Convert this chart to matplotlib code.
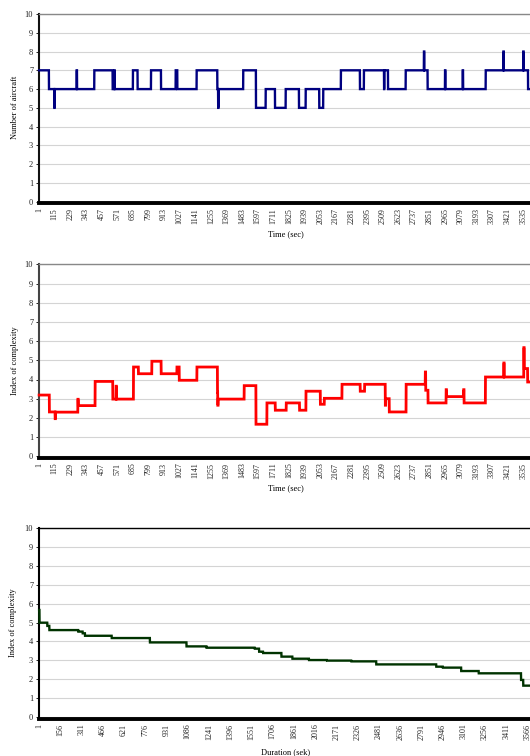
import numpy as np
import matplotlib
matplotlib.use('Agg')
import matplotlib.pyplot as plt

# step data: (start second, value) pairs
n_seconds = 3600

aircraft_start = [1, 73, 112, 115, 275, 278, 404, 538, 550, 553, 686, 720, 818, 891,
                  998, 1010, 1151, 1302, 1308, 1311, 1491, 1584, 1655, 1723, 1801,
                  1898, 1947, 2046, 2075, 2204, 2343, 2372, 2519, 2521, 2548, 2677,
                  2810, 2813, 2837, 2964, 2967, 3093, 3096, 3261, 3390, 3393, 3535,
                  3538, 3570]
aircraft_value = [7, 6, 5, 6, 7, 6, 7, 6, 7, 6, 7, 6, 7, 6,
                  7, 6, 7, 6, 5, 6, 7, 5, 6, 5, 6,
                  5, 6, 5, 6, 7, 6, 7, 6, 7, 6, 7,
                  8, 7, 6, 7, 6, 7, 6, 7, 8, 7, 8,
                  7, 6]

complexity_start = [1, 76, 118, 121, 284, 287, 410, 539, 563, 566, 690, 726, 824, 892,
                    1007, 1024, 1153, 1303, 1305, 1308, 1498, 1584, 1664, 1725, 1805,
                    1902, 1949, 2054, 2083, 2212, 2345, 2377, 2528, 2531, 2557, 2680,
                    2820, 2823, 2840, 2972, 2975, 3100, 3103, 3259, 3393, 3396, 3539,
                    3542, 3567]
complexity_value = [3.19, 2.31, 1.96, 2.3, 2.97, 2.64, 3.9, 2.98, 3.65, 2.98, 4.65, 4.3, 4.95, 4.3,
                    4.65, 3.96, 4.65, 3.35, 2.66, 2.98, 3.68, 1.67, 2.78, 2.4, 2.78,
                    2.4, 3.39, 2.71, 3.02, 3.75, 3.39, 3.75, 2.66, 3.0, 2.31, 3.75,
                    4.39, 3.44, 2.78, 3.47, 3.11, 3.47, 2.78, 4.13, 4.86, 4.13, 5.66,
                    4.57, 3.87]

sorted_start = [1, 4, 61, 76, 287, 319, 336, 531, 810, 1077, 1223, 1575, 1607, 1636,
                1770, 1850, 1971, 2102, 2280, 2462, 2900, 2948, 3082, 3210, 3519, 3535]
sorted_value = [5.66, 4.99, 4.82, 4.6, 4.52, 4.43, 4.3, 4.18, 3.95, 3.74, 3.67, 3.62, 3.46, 3.39,
                3.2, 3.09, 3.02, 2.99, 2.95, 2.79, 2.67, 2.62, 2.44, 2.32, 1.97, 1.67]

time_ticks = list(range(1, n_seconds, 114))
duration_ticks = list(range(1, n_seconds, 155))


def expand(starts, values, n):
    t = np.arange(1, n + 1)
    idx = np.searchsorted(starts, t, side='right') - 1
    return t, np.asarray(values)[idx]


plt.rcParams['font.family'] = ['Liberation Serif', 'DejaVu Serif']

W, H = 530, 756
fig = plt.figure(figsize=(W / 100, H / 100), dpi=100)

# (top px, bottom px) of each plot area; plot areas run past the right edge
panels = [
    (14.0, 201.7, aircraft_start, aircraft_value, '#000080', 1.7, 'Number of aircraft',
     'Time (sec)', time_ticks, '#888888', '#111111', -0.172, -0.049),
    (264.3, 456.3, complexity_start, complexity_value, '#ff0000', 2.0, 'Index of complexity',
     'Time (sec)', time_ticks, '#888888', '#444444', -0.165, -0.049),
    (527.7, 717.3, sorted_start, sorted_value, '#003300', 1.7, 'Index of complexity',
     'Duration (sek)', duration_ticks, '#000000', '#000000', -0.183, -0.053),
]

left_px = 39.0
px_per_sec = 0.137
width_px = n_seconds * px_per_sec

for top, bottom, starts, values, color, lw, ylab, xlab, ticks, top_col, left_col, xl_y, yl_x in panels:
    ax = fig.add_axes([left_px / W, (H - bottom) / H, width_px / W, (bottom - top) / H])
    t, y = expand(starts, values, n_seconds)
    ax.plot(t, y, color=color, lw=lw, solid_joinstyle='miter', zorder=3, clip_on=False)

    ax.set_xlim(0, n_seconds)
    ax.set_ylim(0, 10)
    ax.set_yticks(range(0, 11))
    ax.yaxis.grid(True, color='#d4d4d4', lw=0.8)
    ax.set_axisbelow(True)

    ax.set_xticks(ticks)
    ax.set_xticklabels([str(v) for v in ticks])
    ax.tick_params(axis='x', length=0, pad=3.5, labelsize=5.8, labelrotation=90, colors='#222222')
    ax.tick_params(axis='y', length=2.2, width=0.7, pad=2, labelsize=6, colors='#222222')
    for lab in ax.get_xticklabels():
        lab.set_rotation(90)
        lab.set_va('top')
        lab.set_ha('center')

    ax.spines['right'].set_visible(False)
    ax.spines['top'].set_color(top_col)
    ax.spines['top'].set_linewidth(1.0)
    ax.spines['left'].set_color(left_col)
    ax.spines['left'].set_linewidth(1.5)
    ax.spines['bottom'].set_color('black')
    ax.spines['bottom'].set_linewidth(2.8)
    ax.spines['bottom'].set_position(('outward', 1))

    ax.text(0.5, xl_y, xlab, transform=ax.transAxes, ha='center', va='center', fontsize=6)
    ax.text(yl_x, 0.5, ylab, transform=ax.transAxes, ha='center', va='center',
            rotation=90, fontsize=6)

fig.savefig('out.png', dpi=100)
